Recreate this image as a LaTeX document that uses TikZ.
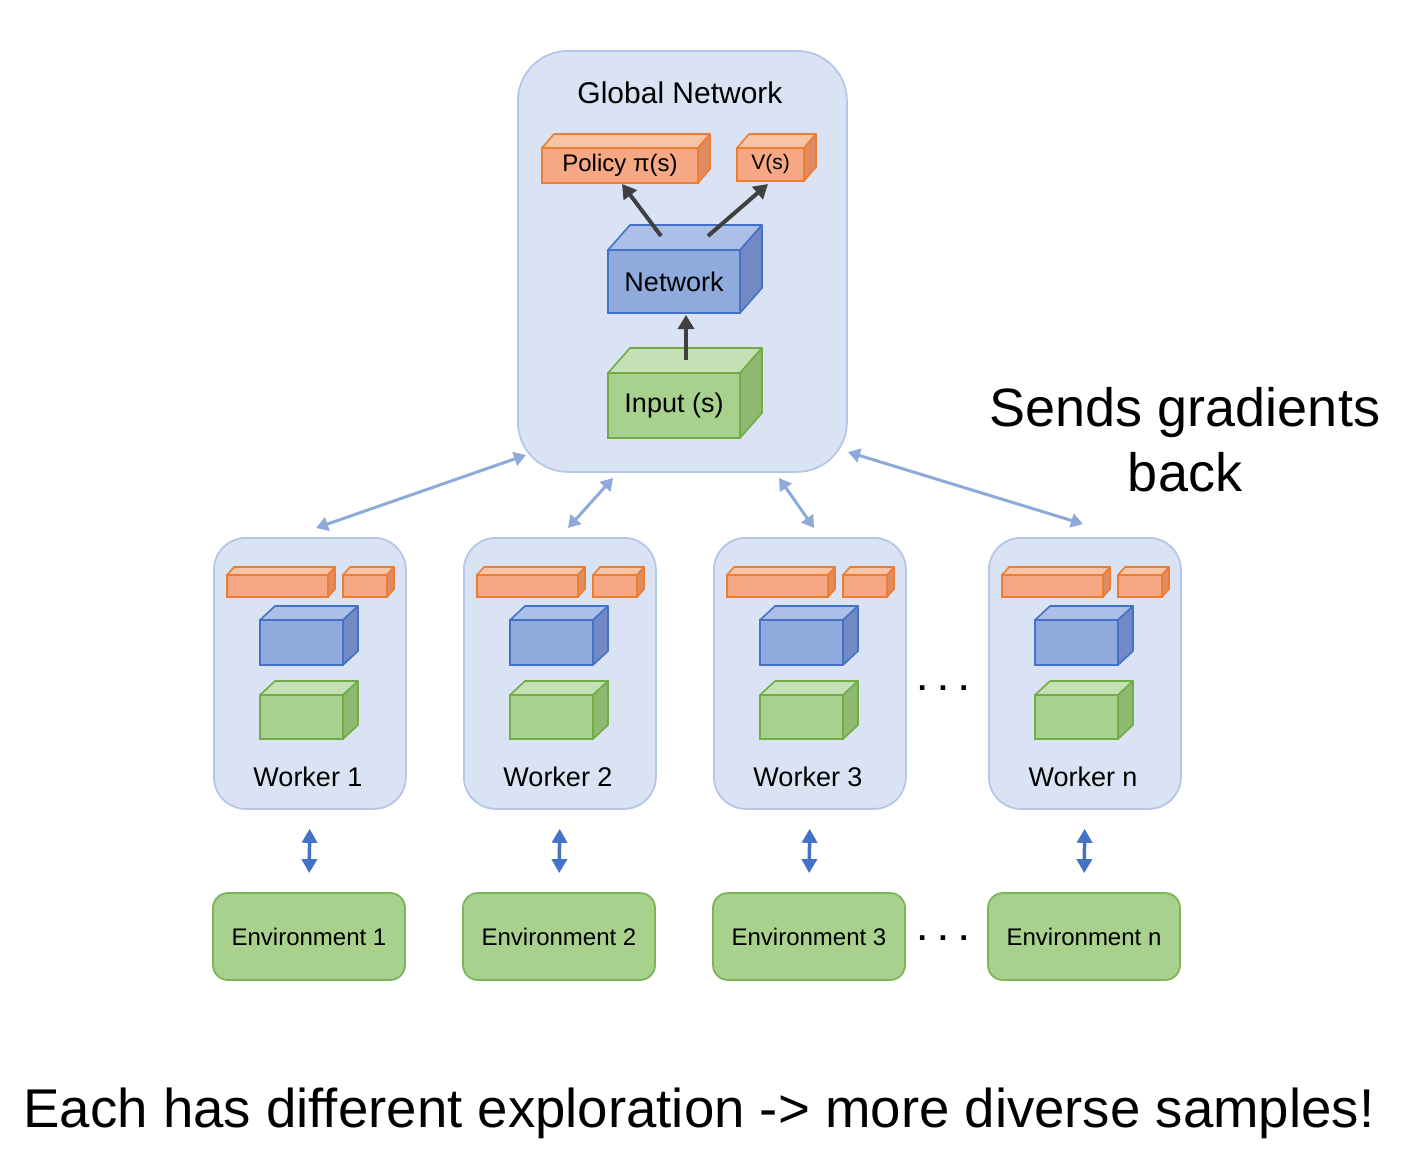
\documentclass[tikz,border=0pt]{standalone}
\usepackage{fontspec}
\setmainfont{Liberation Sans}
\usetikzlibrary{arrows.meta}
\definecolor{panelfill}{HTML}{DAE3F3}
\definecolor{panelline}{HTML}{B4C7E7}
\definecolor{orline}{HTML}{ED7D31}
\definecolor{orfront}{HTML}{F5A883}
\definecolor{ortop}{HTML}{F8C4A6}
\definecolor{orside}{HTML}{E08B63}
\definecolor{blline}{HTML}{4472C4}
\definecolor{blfront}{HTML}{8FAADC}
\definecolor{bltop}{HTML}{ABBFE8}
\definecolor{blside}{HTML}{7189C4}
\definecolor{grline}{HTML}{70AD47}
\definecolor{grfront}{HTML}{A9D18E}
\definecolor{grtop}{HTML}{C5E0B4}
\definecolor{grside}{HTML}{8DBA70}
\definecolor{envfill}{HTML}{A9D18E}
\definecolor{envline}{HTML}{7CB45A}
\definecolor{ltarrow}{HTML}{8EAADB}
\definecolor{dkarrow}{HTML}{404040}
\definecolor{envarrow}{HTML}{4472C4}
\newcommand{\fsz}[1]{\fontsize{#1}{#1}\selectfont}
\tikzset{
  cubefront/.style={line width=1.6pt, inner sep=0pt, outer sep=0pt, text=black},
  cubeedge/.style={line width=1.6pt, line join=round},
  panel/.style={rounded corners=32pt, fill=panelfill, draw=panelline, line width=1.8pt, inner sep=0pt},
  envbox/.style={rounded corners=15pt, fill=envfill, draw=envline, line width=1.8pt, inner sep=0pt,
     minimum width=192pt, minimum height=87pt, font=\fsz{24}},
  darkarr/.style={draw=dkarrow, line width=4pt, -{Triangle[width=16pt,length=14pt]}},
  ltarr/.style={draw=ltarrow, line width=3pt, {Triangle[width=14pt,length=12pt]}-{Triangle[width=14pt,length=12pt]}},
  envarr/.style={draw=envarrow, line width=3.5pt, {Triangle[width=15pt,length=14pt]}-{Triangle[width=15pt,length=14pt]}, shorten <=19pt, shorten >=19pt},
  lbl/.style={inner sep=0pt}
}
% name, x, y (front top-left), w, h, dx, dy, colour prefix, text
\newcommand{\cubeshape}[9]{%
  \node[cubefront, draw=#8line, fill=#8front, minimum width=#4pt, minimum height=#5pt, anchor=north west] (#1) at (#2,#3) {#9};
  \draw[cubeedge, draw=#8line, fill=#8top] (#1.north west) -- ++(#6,-#7) -- ++(#4,0) -- (#1.north east) -- cycle;
  \draw[cubeedge, draw=#8line, fill=#8side] (#1.north east) -- ++(#6,-#7) -- ++(0,#5) -- (#1.south east) -- cycle;
}
% name, left x, label
\newcommand{\workerpanel}[3]{%
  \node[panel, minimum width=192pt, minimum height=271pt, anchor=north west] (#1) at (#2,537) {};
  \cubeshape{#1pa}{#2+14}{575}{101}{22}{7}{8}{or}{}
  \cubeshape{#1va}{#2+130}{575}{44}{22}{7}{8}{or}{}
  \cubeshape{#1nt}{#2+47}{620}{83}{45}{15}{14}{bl}{}
  \cubeshape{#1in}{#2+47}{695}{83}{44}{15}{14}{gr}{}
  \node[lbl, font=\fsz{27}] (#1lb) at (#2+95,777) {#3};
}
\begin{document}
\begin{tikzpicture}[x=1pt,y=-1pt]
\useasboundingbox[fill=white] (0,0) rectangle (1418,1156);

% global network
\node[panel, rounded corners=50pt, minimum width=329pt, minimum height=421pt, anchor=north west] (glob) at (517,50) {};
\node[lbl, font=\fsz{30}] (globlbl) at (680,93) {Global Network};
\cubeshape{pol}{542}{148}{156}{35}{12}{14}{or}{\fsz{24}Policy π(s)}
\cubeshape{val}{737}{148}{67}{33}{12}{14}{or}{\fsz{21}V(s)}
\cubeshape{net}{608}{250}{132}{63}{22}{25}{bl}{\fsz{27}Network}
\cubeshape{inp}{608}{373}{132}{65}{22}{25}{gr}{\fsz{27}Input (s)}

\coordinate (np) at (661,236);
\coordinate (nv) at (708,236);
\coordinate (ia) at (686,360);
\coordinate (nb) at (686,315);
\coordinate (pe) at (622,184);
\coordinate (ve) at (768,184);
\draw[darkarr] (np) -- (pe);
\draw[darkarr] (nv) -- (ve);
\draw[darkarr] (ia) -- (nb);

% workers
\workerpanel{wa}{213}{Worker 1}
\workerpanel{wb}{463}{Worker 2}
\workerpanel{wc}{713}{Worker 3}
\workerpanel{wd}{988}{Worker n}

% environments
\node[envbox] (ea) at (309,936.5) {Environment 1};
\node[envbox] (eb) at (559,936.5) {Environment 2};
\node[envbox] (ec) at (809,936.5) {Environment 3};
\node[envbox] (ed) at (1084,936.5) {Environment n};

\draw[envarr] (wa.south) -- (ea.north);
\draw[envarr] (wb.south) -- (eb.north);
\draw[envarr] (wc.south) -- (ec.north);
\draw[envarr] (wd.south) -- (ed.north);

% global <-> worker arrows
\coordinate (ga) at (526,455);
\coordinate (gb) at (613,478);
\coordinate (gc) at (779,478);
\coordinate (gd) at (848,452);
\coordinate (ta) at (316,528);
\coordinate (tb) at (568,528);
\coordinate (tc) at (814,528);
\coordinate (td) at (1083,524);
\draw[ltarr] (ta) -- (ga);
\draw[ltarr] (tb) -- (gb);
\draw[ltarr] (tc) -- (gc);
\draw[ltarr] (td) -- (gd);

% dots
\node[lbl, font=\fsz{32}\bfseries] (dotsa) at (943,688) {. . .};
\node[lbl, font=\fsz{32}\bfseries] (dotsb) at (943,938) {. . .};

% texts
\node[lbl, font=\fsz{54}, align=center, text depth=0pt] (sends) at (1185,439) {Sends gradients\\[11pt]back};
\node[lbl, font=\fsz{54.6}, anchor=base] (bottom) at (699,1127) {Each has different exploration -> more diverse samples!};
\end{tikzpicture}
\end{document}
